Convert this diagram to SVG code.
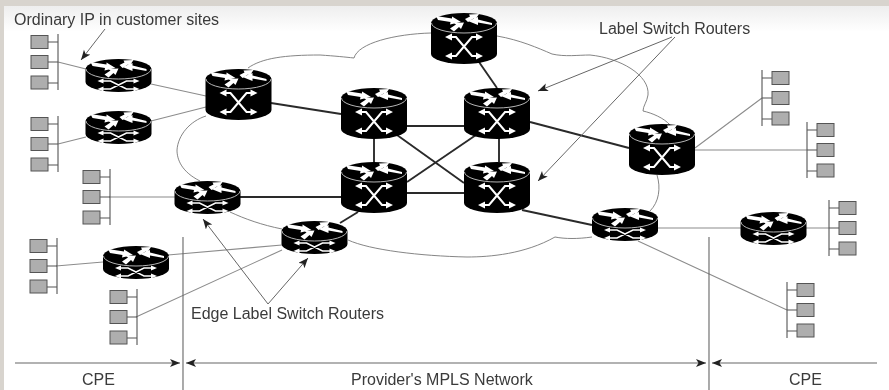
<svg xmlns="http://www.w3.org/2000/svg" xmlns:xlink="http://www.w3.org/1999/xlink" width="889" height="390" viewBox="0 0 889 390">
<style>
text{font-family:"Liberation Sans",Arial,sans-serif;font-size:16px;fill:#3a3a3a}
.cloud{fill:none;stroke:#777;stroke-width:.9}
.thin{fill:none;stroke:#8c8c8c;stroke-width:1.1}
.lite{fill:none;stroke:#c4c4c4;stroke-width:1.8}
.thick{fill:none;stroke:#2a2a2a;stroke-width:1.9}
.call{fill:none;stroke:#666;stroke-width:1}
.rule{fill:none;stroke:#666;stroke-width:1.1}
.body{fill:#000}
.rim{fill:none;stroke:#c8c8c8;stroke-width:.9}
.w{fill:#fff}
.xt{fill:none;stroke:#fff;stroke-width:2.1}
.xs{fill:none;stroke:#fff;stroke-width:1.5}
.sq{fill:#aeaeae;stroke:#555;stroke-width:1}
.bus{fill:none;stroke:#555;stroke-width:1.1}
</style>
<defs>
<linearGradient id="topfade" x1="0" y1="0" x2="0" y2="1"><stop offset="0" stop-color="#eeeeee"/><stop offset="1" stop-color="#ffffff"/></linearGradient>
<filter id="soft" x="-2%" y="-2%" width="104%" height="104%"><feGaussianBlur stdDeviation="0.45"/></filter>
<marker id="head" markerUnits="userSpaceOnUse" markerWidth="12" markerHeight="10" refX="10" refY="4" orient="auto-start-reverse"><path d="M0,0 L10,4 L0,8 L2.5,4z" fill="#222"/></marker>
<g id="top-arrows">
<path class="w" d="M-28,3 L-12,5.5 L-12,3.5 L-3,9 L-14,11.5 L-13.5,9 L-26,7z"/>
<path class="w" d="M-14,15.5 L-8,11.5 L-10,10 L0,9.5 L-3,16 L-5,14 L-10,18.5z"/>
<path class="w" d="M1,6 L6,3.5 L5,1.5 L15,1 L11,7 L9.5,5.5 L4,9z"/>
<path class="w" d="M28,12 L14,9.5 L14,12 L4,8 L14,4 L14,6.5 L28,10z"/>
</g>
<g id="router-tall">
<path class="body" d="M-33,10 A33,10 0 0 1 33,10 V41 A33,10 0 0 1 -33,41z"/>
<path class="rim" d="M-32.5,10 A32.5,10 0 0 0 32.5,10"/>
<use xlink:href="#top-arrows" href="#top-arrows"/>
<path class="xt" d="M-13,24 H-8 L8,43 H13 M13,24 H8 L-8,43 H-13"/>
<path class="w" d="M-19,24 L-12,20.5 V27.5z M19,24 L12,20.5 V27.5z M-19,43 L-12,39.5 V46.5z M19,43 L12,39.5 V46.5z"/>
</g>
<g id="router-short">
<path class="body" d="M-33,10 A33,10 0 0 1 33,10 V23 A33,10 0 0 1 -33,23z"/>
<path class="rim" d="M-32.5,10 A32.5,10 0 0 0 32.5,10"/>
<use xlink:href="#top-arrows" href="#top-arrows"/>
<path class="xs" d="M-16,22 H-8 L8,30 H16 M16,22 H8 L-8,30 H-16"/>
<path class="w" d="M-21,22 L-15,19.5 V24.5z M21,22 L15,19.5 V24.5z M-21,30 L-15,27.5 V32.5z M21,30 L15,27.5 V32.5z"/>
</g>
<g id="site-l">
<path class="bus" d="M27,0 V56 M17,8 H27 M17,28 H27 M17,49 H27"/>
<rect class="sq" x="0" y="1.5" width="17" height="13"/>
<rect class="sq" x="0" y="21.5" width="17" height="13"/>
<rect class="sq" x="0" y="42" width="17" height="13"/>
</g>
<g id="site-r">
<path class="bus" d="M0,0 V56 M0,8 H10 M0,28 H10 M0,49 H10"/>
<rect class="sq" x="10" y="1.5" width="17" height="13"/>
<rect class="sq" x="10" y="21.5" width="17" height="13"/>
<rect class="sq" x="10" y="42" width="17" height="13"/>
</g>
</defs>
<rect width="889" height="390" fill="#d8d4ce"/>
<rect x="4" y="6" width="885" height="384" fill="#fff"/>
<rect x="4" y="6" width="885" height="26" fill="url(#topfade)"/>
<g filter="url(#soft)">
<g id="connectors">
<path class="cloud" d="M248,68 C262,58 285,55 320,55 C335,56 345,57 354,58 C358,43 395,34 431,33 M497,36 C520,40 538,48 552,54 C565,57 578,55 590,55 C620,58 650,75 648,95 C647,102 643,106 643,111 C652,113 664,118 670,125 M657,175 C661,188 659,202 650,211 M592,237 C578,239 565,239 555,237 C525,254 490,257 467,257 C420,256 370,250 348,240 M282,229 C262,225 245,219 230,212 M200,181 C182,172 177,160 177,150 C178,135 190,121 206,116"/>
<path class="thin" d="M58,62 L86,69 M151,84 L206,96 M151,121 L206,107 M58,144 L86,137 M695,148 L762,98 M658,228 H741 M806,228 H829 M638,241 L787,310 M56,266 L103,262 M168,255 L282,245 M136,317 L282,250"/>
<path class="lite" d="M109,197 H175 M695,150 H807"/>
<path class="thick" d="M240,197 H341 M271,103 L341,114 M479,62 L497,88 M407,126 H464 M374,137 V162 M499,137 V162 M397,135 L464,183 M476,135 L407,182 M407,193 H464 M358,212 L340,223 M522,210 L592,225 M530,122 L629,148"/>
<path class="call" marker-end="url(#head)" d="M105,29 L81,60"/>
<path class="call" marker-end="url(#head)" d="M672,37 L538,91"/>
<path class="call" marker-end="url(#head)" d="M675,37 L538,181"/>
<path class="call" marker-end="url(#head)" d="M268,304 L203,219"/>
<path class="call" marker-end="url(#head)" d="M268,304 L308,258"/>
<path class="rule" d="M183,237 V390 M709,237 V390"/>
<path class="rule" marker-end="url(#head)" d="M15,363 H180"/>
<path class="rule" marker-start="url(#head)" marker-end="url(#head)" d="M186,363 H706"/>
<path class="rule" marker-end="url(#head)" d="M877,363 H712"/>
</g>
<g id="r1"><use href="#router-short" x="118.5" y="59"/></g>
<g id="r2"><use href="#router-short" x="118.5" y="111"/></g>
<g id="r3"><use href="#router-short" x="207.5" y="181"/></g>
<g id="r4"><use href="#router-short" x="314.5" y="221"/></g>
<g id="r5"><use href="#router-short" x="136" y="246"/></g>
<g id="r6"><use href="#router-short" x="625" y="208"/></g>
<g id="r7"><use href="#router-short" x="773.5" y="212"/></g>
<g id="lsr-a"><use href="#router-tall" x="238.5" y="69"/></g>
<g id="lsr-top"><use href="#router-tall" x="464" y="13"/></g>
<g id="lsr-b"><use href="#router-tall" x="374" y="88"/></g>
<g id="lsr-c"><use href="#router-tall" x="497" y="88"/></g>
<g id="lsr-d"><use href="#router-tall" x="374" y="162"/></g>
<g id="lsr-e"><use href="#router-tall" x="497" y="162"/></g>
<g id="lsr-f"><use href="#router-tall" x="662" y="124"/></g>
<g id="site1"><use href="#site-l" x="31" y="34"/></g>
<g id="site2"><use href="#site-l" x="31" y="116"/></g>
<g id="site3"><use href="#site-l" x="83" y="169"/></g>
<g id="site4"><use href="#site-l" x="30" y="238"/></g>
<g id="site5"><use href="#site-l" x="110" y="289"/></g>
<g id="site6"><use href="#site-r" x="762" y="70"/></g>
<g id="site7"><use href="#site-r" x="807" y="122"/></g>
<g id="site8"><use href="#site-r" x="829" y="200"/></g>
<g id="site9"><use href="#site-r" x="787" y="282"/></g>
<g id="labels">
<text x="14" y="25">Ordinary IP in customer sites</text>
<text x="599" y="34">Label Switch Routers</text>
<text x="191" y="319">Edge Label Switch Routers</text>
<text x="82" y="385">CPE</text>
<text x="351" y="385">Provider's MPLS Network</text>
<text x="789" y="385">CPE</text>
</g>
</g>
</svg>
